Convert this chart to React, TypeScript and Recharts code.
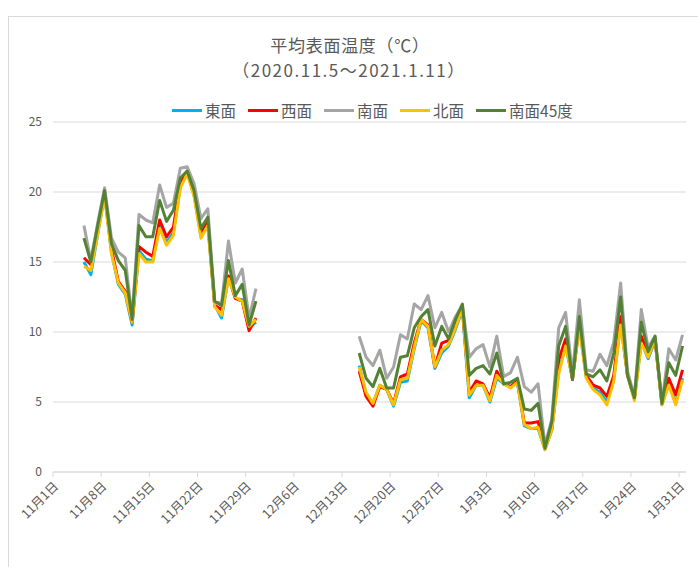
import { LineChart, Line, XAxis, YAxis, CartesianGrid } from 'recharts'

// day index 0 = 11月1日 (2020), 91 = 1月31日 (2021)
const totalDays = 92
const tickDays = [0, 7, 14, 21, 28, 35, 42, 49, 56, 63, 70, 77, 84, 91]
const tickLabels = [
  '11月1日', '11月8日', '11月15日', '11月22日', '11月29日', '12月6日', '12月13日',
  '12月20日', '12月27日', '1月3日', '1月10日', '1月17日', '1月24日', '1月31日',
]

// first period: 11月5日 ~ 11月30日
const seg1Start = 4
const east1 = [15.0, 14.1, 17.0, 19.8, 15.7, 13.4, 12.7, 10.5, 15.8, 15.2, 15.1, 17.6, 16.4, 17.1, 20.4, 21.4, 19.8, 16.9, 17.7, 11.9, 11.0, 13.9, 12.4, 12.3, 10.3, 10.7]
const west1 = [15.3, 14.8, 17.3, 19.9, 15.9, 13.6, 12.9, 10.7, 16.1, 15.7, 15.4, 18.0, 16.8, 17.5, 20.6, 21.5, 19.9, 17.2, 18.0, 11.9, 11.6, 14.0, 12.4, 12.2, 10.1, 11.0]
const south1 = [17.6, 15.1, 17.8, 20.3, 16.7, 15.7, 15.3, 11.0, 18.4, 18.0, 17.8, 20.5, 18.9, 19.2, 21.7, 21.8, 20.6, 18.1, 18.8, 12.2, 12.0, 16.5, 13.5, 14.5, 11.0, 13.1]
const north1 = [14.7, 14.4, 17.0, 19.7, 15.6, 13.5, 12.8, 10.7, 15.6, 15.0, 15.0, 17.4, 16.2, 16.9, 20.3, 21.3, 19.7, 16.7, 17.6, 11.8, 11.2, 13.8, 12.5, 12.2, 10.4, 10.9]
const south45_1 = [16.7, 15.0, 17.6, 20.1, 16.3, 15.1, 14.4, 10.9, 17.6, 16.8, 16.8, 19.4, 17.9, 18.7, 21.0, 21.5, 20.1, 17.4, 18.2, 12.2, 11.9, 15.1, 12.6, 13.4, 10.5, 12.2]

// second period: 12月15日 ~ 1月31日
const seg2Start = 44
const east2 = [
  7.6, 5.6, 4.9, 6.2, 5.9, 4.7, 6.4, 6.5, 8.8, 10.8, 10.3, 7.4, 8.5, 9.0, 10.2, 11.6,
  5.3, 6.2, 6.2, 5.0, 6.7, 6.3, 6.1, 6.4, 3.3, 3.1, 3.1, 1.6, 3.0, 7.2, 9.0, 6.7,
  10.4, 6.8, 6.0, 5.7, 5.0, 6.6, 10.6, 6.9, 5.2, 9.3, 8.1, 9.4, 4.8, 6.3, 4.9, 6.7,
]
const west2 = [
  7.2, 5.4, 4.7, 6.1, 5.9, 4.9, 6.8, 7.0, 9.2, 10.9, 10.5, 7.5, 9.2, 9.4, 10.5, 11.8,
  5.7, 6.5, 6.3, 5.3, 7.2, 6.3, 6.1, 6.5, 3.5, 3.5, 3.6, 1.7, 3.1, 8.0, 9.5, 6.6,
  10.7, 6.9, 6.2, 6.0, 5.4, 6.9, 11.1, 6.9, 5.3, 9.7, 8.4, 9.5, 4.9, 6.7, 5.5, 7.3,
]
const south2 = [
  9.7, 8.2, 7.6, 8.7, 6.7, 7.5, 9.8, 9.5, 12.0, 11.6, 12.6, 10.3, 11.4, 10.0, 11.1, 11.9,
  8.2, 8.8, 9.1, 7.5, 9.7, 6.8, 7.1, 8.2, 6.1, 5.7, 6.3, 1.9, 3.8, 10.3, 11.4, 7.0,
  12.3, 7.3, 7.2, 8.4, 7.6, 9.3, 13.5, 7.2, 5.4, 11.6, 8.9, 9.7, 4.9, 8.8, 8.0, 9.8,
]
const north2 = [
  7.5, 5.7, 4.9, 6.2, 5.9, 4.8, 6.6, 6.7, 8.9, 10.9, 10.4, 7.5, 8.7, 9.1, 10.3, 11.7,
  5.5, 6.2, 6.2, 5.1, 6.9, 6.3, 6.0, 6.4, 3.4, 3.1, 3.2, 1.6, 3.0, 7.0, 9.0, 6.7,
  10.3, 6.7, 5.9, 5.5, 4.8, 6.5, 10.5, 6.9, 5.1, 9.2, 8.2, 9.5, 4.8, 6.2, 4.8, 6.6,
]
const south45_2 = [
  8.5, 6.7, 6.1, 7.4, 6.0, 6.0, 8.2, 8.3, 10.3, 11.1, 11.6, 9.0, 10.4, 9.5, 10.9, 12.0,
  6.9, 7.4, 7.6, 7.0, 8.5, 6.3, 6.4, 6.7, 4.5, 4.4, 4.9, 1.7, 3.6, 9.0, 10.4, 6.6,
  11.1, 7.0, 6.8, 7.3, 6.5, 8.5, 12.5, 6.9, 5.3, 10.7, 8.6, 9.7, 4.9, 7.8, 6.9, 9.0,
]

const series = [
  { key: 'east', name: '東面', color: '#00B0F0', a: east1, b: east2 },
  { key: 'west', name: '西面', color: '#FF0000', a: west1, b: west2 },
  { key: 'south', name: '南面', color: '#A5A5A5', a: south1, b: south2 },
  { key: 'north', name: '北面', color: '#FFC000', a: north1, b: north2 },
  { key: 'south45', name: '南面45度', color: '#548235', a: south45_1, b: south45_2 },
]

const pick = (arr: number[], start: number, d: number) => {
  const i = d - start
  return i >= 0 && i < arr.length ? arr[i] : null
}

const data = Array.from({ length: totalDays }, (_, d) => {
  const row: Record<string, number | null> = { x: d + 0.5 }
  series.forEach(s => {
    const v1 = pick(s.a, seg1Start, d)
    row[s.key] = v1 !== null ? v1 : pick(s.b, seg2Start, d)
  })
  return row
})

const FONT = '"Noto Sans CJK JP", "Noto Sans", sans-serif'
const TEXT = '#595959'

const DateTick = (props: any) => {
  const { x, y, payload } = props
  const idx = tickDays.indexOf(payload.value)
  return (
    <g transform={`translate(${x + 3},${y + 7}) rotate(-45)`}>
      <text textAnchor="end" dy="0.35em" fontSize={12.5} fill={TEXT} fontFamily={FONT}>
        {tickLabels[idx]}
      </text>
    </g>
  )
}

export default function App() {
  return (
    <div style={{ position: 'absolute', left: 0, top: 0, width: 698, height: 567, background: '#fff', overflow: 'hidden', fontFamily: FONT }}>
      <div style={{ position: 'absolute', left: 8, top: 16, width: 720, height: 600, borderLeft: '1px solid #d9d9d9', borderTop: '1px solid #d9d9d9' }} />
      <div style={{ position: 'absolute', left: 0, width: 698, top: 32, textAlign: 'center', fontSize: 17, lineHeight: '25px', color: TEXT }}>
        <div style={{ paddingLeft: 2, letterSpacing: 0.7 }}>平均表面温度（℃）</div>
        <div style={{ letterSpacing: 1.5 }}>（2020.11.5～2021.1.11）</div>
      </div>
      <div style={{ position: 'absolute', left: 172, top: 100, display: 'flex', alignItems: 'center', fontSize: 15.5, color: TEXT, lineHeight: '20px' }}>
        {series.map(s => (
          <div key={s.key} style={{ display: 'flex', alignItems: 'center', marginRight: 12 }}>
            <span style={{ display: 'inline-block', width: 30, height: 3, background: s.color, marginRight: 3 }} />
            <span>{s.name}</span>
          </div>
        ))}
      </div>
      <div style={{ position: 'absolute', left: 0, top: 0 }}>
        <LineChart width={698} height={567} data={data} margin={{ top: 122, right: 12, bottom: 0, left: 0 }}>
          <CartesianGrid vertical={false} stroke="#d9d9d9" />
          <XAxis
            dataKey="x"
            type="number"
            domain={[0, totalDays]}
            ticks={tickDays}
            interval={0}
            height={95}
            tickSize={5}
            tickMargin={0}
            stroke="#d9d9d9"
            tick={<DateTick />}
          />
          <YAxis
            domain={[0, 25]}
            ticks={[0, 5, 10, 15, 20, 25]}
            width={53}
            axisLine={false}
            tickLine={false}
            tickMargin={5}
            tick={{ fill: TEXT, fontSize: 12, fontFamily: FONT }}
          />
          {series.map(s => (
            <Line
              key={s.key}
              dataKey={s.key}
              name={s.name}
              stroke={s.color}
              strokeWidth={3}
              dot={false}
              activeDot={false}
              connectNulls={false}
              isAnimationActive={false}
              strokeLinejoin="round"
            />
          ))}
        </LineChart>
      </div>
    </div>
  )
}
